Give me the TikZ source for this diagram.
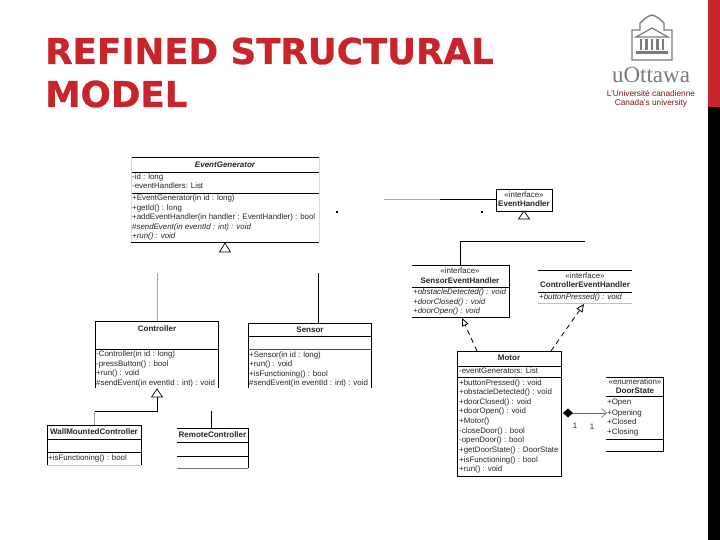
\documentclass[tikz,border=0pt]{standalone}
\usepackage{fontspec}
\setmainfont{Liberation Sans}
\newfontfamily\headfont[BoldFeatures={FakeBold=0.8}]{DejaVu Sans}
\newfontfamily\logofont{Liberation Serif}
\usetikzlibrary{arrows.meta}
\definecolor{ored}{HTML}{C8242B}
\definecolor{ogrey}{HTML}{7A7A7A}
\newcommand{\umlsize}{\fontsize{7.9}{9}\selectfont}
\tikzset{
 uml/.style={line width=0.8pt,black},
 edge/.style={line width=0.9pt,black},
 faint/.style={line width=0.9pt,black!35},
 txt/.style={inner sep=0pt,anchor=west,font=\umlsize,text=black!85},
 itxt/.style={txt,font=\umlsize\itshape},
 ctr/.style={inner sep=0pt,anchor=center,font=\umlsize,text=black!85},
 ttl/.style={inner sep=0pt,anchor=center,font=\fontsize{8}{9}\selectfont\bfseries,text=black!85},
 tri/.style={draw=black,line width=0.7pt,fill=white},
 real/.style={line width=0.8pt,black,dash pattern=on 5pt off 4pt,-{Triangle[open,length=8pt,width=7pt,fill=white]}},
 heading/.style={inner sep=0pt,anchor=base west,font=\headfont\fontsize{35.6}{40}\selectfont\bfseries,text=ored},
 logotxt/.style={inner sep=0pt,anchor=center,font=\fontsize{8.3}{9}\selectfont,text=ored!60!black},
}
\begin{document}
\begin{tikzpicture}[x=1pt,y=-1pt]
\useasboundingbox (0,0) rectangle (720,540);
\fill[white] (0,0) rectangle (720,540);
% side bar
\fill[ored] (708,0) rectangle (720,107);
\fill[black] (708,107) rectangle (720,540);
% heading
\node[heading] (h1) at (45,64) {REFINED STRUCTURAL};
\node[heading] (h2) at (45,107) {MODEL};
% logo
\draw[ogrey,line width=1.3pt] (632,60) -- (632,30) -- (640,30) -- (640,23) .. controls (645,18) and (648,16) .. (652,15) .. controls (656,16) and (659,18) .. (664,23) -- (664,30) -- (672,30) -- (672,60) -- cycle;
\draw[ogrey,line width=1.2pt,line join=miter] (636,37) -- (652,28) -- (668,37) -- cycle;
\foreach \x in {641,646.5,652,657.5,663} \fill[ogrey] (\x-1.2,39) rectangle (\x+1.2,50);
\fill[ogrey] (636,51.5) rectangle (668,54.5);
\node[inner sep=0pt,anchor=center,font=\logofont\fontsize{23}{24}\selectfont,text=ogrey] (logoname) at (651,75) {uOttawa};
\node[logotxt] (logol1) at (651,93) {L'Université canadienne};
\node[logotxt] (logol2) at (651,103) {Canada's university};

% EventGenerator
\draw[uml] (131,157) -- (319,157) (131,172) -- (319,172) (131,193) -- (319,193) (131,242) -- (319,242);
\draw[line width=0.5pt,black!15] (131,157) -- (131,242) (319,157) -- (319,242);
\node[ctr,font=\fontsize{8}{9}\selectfont\itshape\bfseries] (eg) at (225,164.5) {EventGenerator};
\node[txt] (eg1) at (132,177) {-id : long};
\node[txt] (eg2) at (132,186) {-eventHandlers: List};
\node[txt] (eg3) at (132,198) {+EventGenerator(in id : long)};
\node[txt] (eg4) at (132,208) {+getId() : long};
\node[txt] (eg5) at (132,217.5) {+addEventHandler(in handler : EventHandler) : bool};
\node[itxt] (eg6) at (132,227) {\#sendEvent(in eventId : int) : void};
\node[itxt] (eg7) at (132,236) {+run() : void};
\draw[tri] (225,243) -- (219.5,252) -- (230.5,252) -- cycle;
% dots
\fill[black] (335.5,211) rectangle (337.5,213);
\fill[black] (480.5,211) rectangle (482.5,213);

% EventHandler
\draw[uml] (496,189) rectangle (552,211);
\node[ctr] (ehs) at (524,194.5) {«interface»};
\node[ttl] (eh) at (524,204) {EventHandler};
\coordinate (ehL) at (496,199);
\coordinate (ehF) at (384,199);
\draw[line width=0.9pt,black!35] (ehF) -- (440,199);
\draw[edge] (440,199) -- (ehL);
\draw[tri] (524,211) -- (518.5,219) -- (529.5,219) -- cycle;

% SensorEventHandler
\draw[uml] (412,265) -- (509,265) -- (509,317) -- (412,317);
\draw[uml] (412,287) -- (509,287);
\node[ctr] (seh1) at (460,271) {«interface»};
\node[ttl] (seh) at (460,281) {SensorEventHandler};
\node[itxt] (seh2) at (413,292.5) {+obstacleDetected() : void};
\node[itxt] (seh3) at (413,302) {+doorClosed() : void};
\node[itxt] (seh4) at (413,311) {+doorOpen() : void};
\coordinate (tL) at (460,241);
\coordinate (tR) at (585,241);
\coordinate (sehT) at (460,265);
\draw[edge] (sehT) -- (tL) -- (tR);

% ControllerEventHandler
\draw[uml] (538,270) -- (632,270) (538,292) -- (632,292);
\draw[line width=0.5pt,black!25] (538,303) -- (632,303);
\node[ctr] (ceh1) at (585,276) {«interface»};
\node[ttl] (ceh) at (585,285) {ControllerEventHandler};
\node[itxt] (ceh2) at (539,297.5) {+buttonPressed() : void};

% Controller
\draw[uml] (95,388) -- (95,321) -- (218,321) -- (218,388);
\draw[uml] (95,349) -- (218,349);
\node[ttl] (c) at (157,328.5) {Controller};
\node[txt] (c1) at (96,354.5) {-Controller(in id : long)};
\node[txt] (c2) at (96,364) {-pressButton() : bool};
\node[txt] (c3) at (96,373) {+run() : void};
\node[txt] (c4) at (96,383) {\#sendEvent(in eventId : int) : void};
\coordinate (cT) at (157,321);
\draw[faint] (cT) -- (157,273);
\draw[tri] (157,389) -- (151.5,397) -- (162.5,397) -- cycle;

% Sensor
\draw[uml] (248,388) -- (248,323) -- (371,323) -- (371,388) (248,336) -- (371,336);
\draw[line width=0.7pt,black!70] (248,349) -- (371,349);
\node[ttl] (s) at (310,329.5) {Sensor};
\node[txt] (s1) at (249,355) {+Sensor(in id : long)};
\node[txt] (s2) at (249,364.5) {+run() : void};
\node[txt] (s3) at (249,374) {+isFunctioning() : bool};
\node[txt] (s4) at (249,383.5) {\#sendEvent(in eventId : int) : void};
\coordinate (sT) at (318,323);
\draw[edge] (sT) -- (318,273);

% generalization tree of Controller
\coordinate (j1) at (157,411);
\coordinate (j2) at (94,411);
\draw[edge] (157,397) -- (j1) -- (j2);

% WallMounted
\draw[uml] (47,465) -- (47,425) -- (141,425) -- (141,465) (47,439) -- (141,439) (47,452) -- (141,452);
\draw[line width=0.5pt,black!25] (47,465) -- (141,465);
\node[ttl] (wm) at (94,432) {WallMountedController};
\node[txt] (wm1) at (48,458) {+isFunctioning() : bool};
\coordinate (wmT) at (94,425);
\draw[faint] (j2) -- (wmT);

% RemoteController
\draw[uml] (177,428) -- (248,428) -- (248,468) (177,442) -- (248,442) (177,456) -- (248,456);
\draw[line width=0.7pt,black!55] (177,468) -- (248,468);
\node[ttl] (rc) at (212.5,435) {RemoteController};
\coordinate (rcT) at (211,428);
\draw[edge] (rcT) -- (211,411);

% Motor
\draw[uml] (457,351) rectangle (561,476);
\draw[uml] (457,366) -- (561,366) (457,377) -- (561,377);
\node[ttl] (m) at (509,358) {Motor};
\node[txt] (m1) at (459,371) {-eventGenerators: List};
\foreach \n/\y/\t in {a/383/+buttonPressed() : void,
 b/392.5/+obstacleDetected() : void,
 d/402/+doorClosed() : void,
 e/411.5/+doorOpen() : void,
 f/421/+Motor(),
 g/431/-closeDoor() : bool,
 h/440.5/-openDoor() : bool,
 i/450/+getDoorState() : DoorState,
 j/460/+isFunctioning() : bool,
 k/469.5/+run() : void}
  \node[txt] (mm\n) at (459,\y) {\t};
\coordinate (mA) at (477,351);
\coordinate (mB) at (551,351);
\coordinate (sehB) at (462,318);
\coordinate (cehB) at (584,304);
\draw[real] (mA) -- (sehB);
\draw[real] (mB) -- (cehB);

% DoorState
\draw[uml] (606,377) -- (663.5,377) -- (663.5,451) -- (606,451) (606,396) -- (663.5,396) (606,439) -- (663.5,439);
\node[ctr] (ds1) at (635,381.5) {«enumeration»};
\node[ttl] (ds) at (635,391) {DoorState};
\node[txt] (ds2) at (607,403) {+Open};
\node[txt] (ds3) at (607,413) {+Opening};
\node[txt] (ds4) at (607,422) {+Closed};
\node[txt] (ds5) at (607,432) {+Closing};
\coordinate (dsL) at (607,413);
\coordinate (mR) at (563,413);
\draw[line width=0.6pt,black!60,-{Straight Barb[length=5pt,width=9pt]}] (mR) -- (dsL);
\fill[black] (563,413) -- (568,408.5) -- (573,413) -- (568,417.5) -- cycle;
\node[ctr] (n1) at (575,426) {1};
\node[ctr] (n2) at (592,427) {1};
\end{tikzpicture}
\end{document}
